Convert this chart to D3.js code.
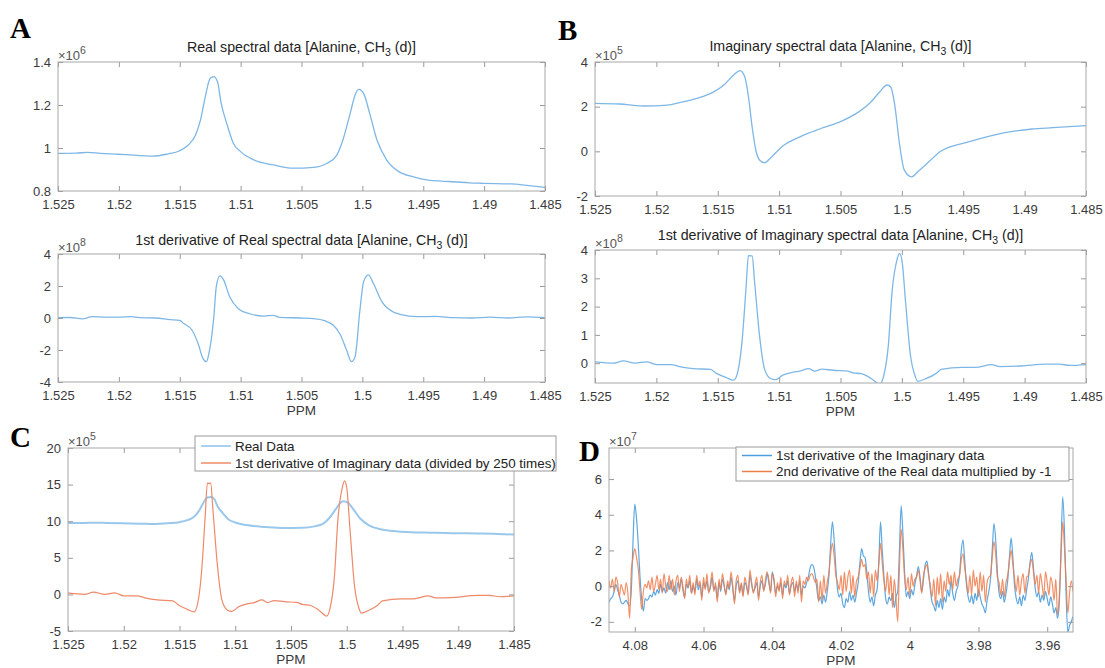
<!DOCTYPE html>
<html>
<head>
<meta charset="utf-8">
<script src="https://cdn.jsdelivr.net/npm/d3@7"></script>
<style>
body { margin: 0; background: #fff; }
svg text { font-family: "Liberation Sans", Arial, Helvetica, sans-serif; }
</style>
</head>
<body>
<svg id="fig" width="1105" height="668"></svg>
<script>
// ---- data ----
var ppmTicks = [1.525, 1.52, 1.515, 1.51, 1.505, 1.5, 1.495, 1.49, 1.485];
var ppmLabels = ["1.525", "1.52", "1.515", "1.51", "1.505", "1.5", "1.495", "1.49", "1.485"];
var dTicks = [4.08, 4.06, 4.04, 4.02, 4.00, 3.98, 3.96];
var dLabels = ["4.08", "4.06", "4.04", "4.02", "4", "3.98", "3.96"];

// real spectrum, x10^6
var realPpm = [1.5250,1.5235,1.5226,1.5215,1.5201,1.5185,1.5172,1.5160,1.5150,1.5143,1.5137,1.5133,1.5129,1.5125,1.5122,1.5119,1.5116,1.5111,1.5106,1.5100,1.5090,1.5073,1.5057,1.5040,1.5029,1.5021,1.5016,1.5010,1.5006,1.5003,1.4999,1.4994,1.4988,1.4980,1.4970,1.4958,1.4946,1.4935,1.4925,1.4912,1.4902,1.4890,1.4878,1.4865,1.4850];
var realVal = [0.975,0.976,0.980,0.975,0.971,0.966,0.962,0.972,0.987,1.014,1.060,1.130,1.239,1.324,1.332,1.308,1.209,1.107,1.022,0.983,0.947,0.921,0.906,0.910,0.929,0.967,1.037,1.161,1.247,1.273,1.254,1.161,1.037,0.944,0.890,0.866,0.851,0.846,0.843,0.838,0.836,0.834,0.833,0.826,0.817];

// 1st derivative of real, x10^8
var dRealPpm = [1.5250,1.5240,1.5230,1.5222,1.5212,1.5200,1.5190,1.5183,1.5170,1.5158,1.5150,1.5147,1.5140,1.5135,1.5131,1.5128,1.5126,1.5122,1.5120,1.5117,1.5114,1.5109,1.5102,1.5092,1.5081,1.5073,1.5068,1.5051,1.5040,1.5031,1.5024,1.5018,1.5013,1.5009,1.5006,1.5002,1.4999,1.4995,1.4991,1.4984,1.4975,1.4969,1.4955,1.4940,1.4925,1.4910,1.4895,1.4880,1.4865,1.4850];
var dRealVal = [0.02,0.03,-0.05,0.08,0.06,0.05,0.08,0.02,0.0,-0.10,-0.15,-0.33,-0.75,-1.58,-2.52,-2.73,-2.2,0.08,1.96,2.63,2.38,1.33,0.6,0.25,0.12,0.17,0.04,0.0,-0.04,-0.17,-0.44,-1.06,-2.0,-2.73,-2.42,0.5,2.27,2.69,2.17,1.02,0.39,0.23,0.08,0.1,0.02,0.0,0.05,0.0,0.07,0.02];

// imaginary spectrum, x10^5
var imagPpm = [1.5250,1.5230,1.5211,1.5191,1.5181,1.5167,1.5154,1.5145,1.5137,1.5132,1.5128,1.5125,1.5122,1.5119,1.5116,1.5112,1.5106,1.5097,1.5083,1.5067,1.5050,1.5037,1.5025,1.5018,1.5012,1.5009,1.5006,1.5002,1.4998,1.4992,1.4987,1.4978,1.4969,1.4945,1.4925,1.4911,1.4894,1.4877,1.4850];
var imagVal = [2.15,2.12,2.03,2.07,2.18,2.37,2.64,2.97,3.42,3.61,3.34,2.45,1.10,0.06,-0.39,-0.51,-0.24,0.24,0.65,1.0,1.33,1.70,2.22,2.67,2.97,2.87,2.15,0.36,-0.84,-1.14,-0.91,-0.47,-0.02,0.43,0.73,0.88,1.0,1.06,1.15];

// 1st derivative of imaginary, x10^8
var dImagPpm = [1.5250,1.5235,1.5227,1.5217,1.5208,1.5200,1.5188,1.5180,1.5170,1.5156,1.5151,1.5143,1.5137,1.5134,1.5130,1.5127,1.5125,1.5122,1.5120,1.5116,1.5112,1.5107,1.5103,1.5097,1.5088,1.5083,1.5076,1.5071,1.5065,1.5056,1.5045,1.5040,1.5033,1.5025,1.5018,1.5015,1.5011,1.5008,1.5004,1.5002,1.5000,1.4997,1.4993,1.4989,1.4987,1.4980,1.4972,1.4968,1.4951,1.4940,1.4927,1.4920,1.4903,1.4883,1.4872,1.4863,1.4850];
var dImagVal = [0.05,0.0,0.08,0.0,0.05,-0.05,-0.05,-0.13,-0.19,-0.22,-0.36,-0.51,-0.60,-0.36,0.87,2.64,3.80,3.79,2.88,0.99,-0.19,-0.54,-0.58,-0.42,-0.31,-0.28,-0.19,-0.28,-0.21,-0.25,-0.27,-0.34,-0.37,-0.54,-0.74,-0.48,0.64,2.52,3.65,3.88,3.65,2.17,0.28,-0.48,-0.64,-0.54,-0.36,-0.22,-0.15,-0.15,-0.05,-0.12,-0.1,-0.03,-0.03,-0.08,-0.05];

// panel D, x10^7, sampled every 0.0005 ppm from 4.0875
var dStart = 4.0875, dStep = 0.0005;
var dImag1st = [
 -0.9,-0.7,-0.6,-0.3,0.1,-0.2,-0.5,-0.9,-1.0,-0.9,
 -0.8,-1.0,-1.1,-0.2,2.6,4.6,3.8,2.4,0.6,-0.7,
 -1.4,-0.7,-0.8,-0.7,-0.5,-0.6,-0.3,-0.5,-0.2,-0.4,
 0.1,-0.3,-0.1,-0.4,0.2,-0.2,0.3,-0.3,0.0,-0.5,
 0.2,-0.1,0.4,-0.2,-0.6,0.1,-0.1,0.3,-0.4,0.0,
 -0.3,0.4,-0.2,0.1,-0.6,0.2,-0.1,0.3,-0.3,-0.1,
 0.5,-0.2,0.0,-0.7,0.2,-0.3,0.4,0.0,-0.4,0.1,
 -0.2,0.5,-0.1,-0.8,0.0,0.3,-0.3,0.1,-0.5,0.2,
 0.0,-0.4,0.6,0.1,-0.3,-0.1,0.2,-0.6,0.0,0.3,
 -0.2,0.1,0.7,0.2,-0.3,0.8,0.3,-0.4,0.0,-0.2,
 0.2,-0.5,0.1,-0.1,0.3,-0.4,0.0,0.2,-0.3,0.1,
 -0.2,0.3,-0.5,0.0,-0.1,0.2,0.5,1.0,1.2,1.1,
 0.6,-0.2,-0.8,-0.6,-1.0,-0.5,-0.9,-0.3,0.6,2.4,
 3.6,2.6,1.0,-0.2,-0.6,-0.4,-1.0,-1.2,-0.7,-0.9,
 -0.3,-0.8,-0.5,-0.9,-0.4,0.2,1.3,2.1,1.7,1.6,
 0.8,-0.3,-0.9,-0.6,-1.1,-0.5,-0.2,1.4,3.6,2.0,
 0.5,-0.7,-1.0,-0.6,-0.8,-0.4,-1.2,-0.6,-0.3,2.0,
 4.5,3.0,0.8,-0.6,-0.3,-0.7,-0.2,-0.5,0.1,0.6,
 1.1,0.5,-0.3,0.4,1.2,1.4,0.7,-0.2,-0.9,-1.1,
 -1.4,-0.8,-1.2,-0.7,-1.3,-0.6,-0.9,-0.2,-0.6,0.3,
 -0.4,-0.8,-0.3,0.0,0.7,2.0,2.6,1.4,0.1,-0.6,
 -0.9,-0.5,-1.0,-0.4,-0.8,-0.2,-0.6,-1.0,-1.2,-1.5,
 -0.8,-0.3,0.4,2.0,3.5,2.6,0.8,-0.4,-0.7,-0.3,
 -0.9,-0.4,0.3,1.6,2.7,1.6,0.0,-0.7,-1.0,-0.6,
 -1.1,-0.5,-0.8,-0.2,0.4,1.3,1.9,1.0,-0.1,-0.6,
 -0.3,-0.9,-0.5,-0.8,-0.3,-0.7,-1.1,-0.6,-1.0,-1.5,
 -1.2,-1.8,-1.0,2.0,5.0,3.2,-0.5,-2.6,-2.2,-2.0,-1.7
];
var dReal2nd = [
 0.3,-0.1,0.4,-0.3,0.5,0.2,-0.6,0.1,-0.2,-0.5,
 0.2,-0.4,-1.8,0.9,1.6,2.1,1.6,1.0,-0.2,-1.3,
 -0.3,0.1,-0.1,0.3,-0.2,0.5,-0.3,0.1,0.6,-0.2,
 0.4,-0.4,0.7,0.0,-0.3,0.6,-0.2,0.4,-0.5,0.3,
 0.6,-0.3,0.5,0.0,-0.7,0.4,-0.1,0.6,-0.4,0.2,
 -0.5,0.6,0.0,0.3,-0.8,0.5,-0.2,0.7,-0.4,0.1,
 0.8,-0.3,0.2,-0.9,0.4,-0.2,0.7,0.1,-0.5,0.3,
 -0.1,0.8,0.0,-1.0,0.3,0.6,-0.4,0.2,-0.6,0.5,
 0.1,-0.5,0.9,0.2,-0.4,0.1,0.5,-0.8,0.2,0.6,
 -0.3,0.3,0.8,0.4,-0.4,0.7,0.4,-0.6,0.2,-0.3,
 0.5,-0.7,0.3,0.0,0.6,-0.5,0.2,0.5,-0.6,0.3,
 -0.4,0.6,-0.9,0.3,0.1,0.5,0.3,0.6,0.7,0.5,
 0.2,0.4,-0.9,0.3,-0.8,0.6,-0.4,0.2,0.8,1.8,
 2.4,1.7,0.6,0.2,-0.2,0.6,-0.5,0.8,-0.3,0.5,
 0.9,-0.4,0.6,-0.6,0.3,0.5,1.0,1.5,1.1,1.2,
 0.4,0.8,-0.4,0.7,-0.6,0.9,0.3,1.2,2.4,1.3,
 0.3,-0.3,0.8,-0.5,0.6,-1.2,0.4,-0.7,-2.0,1.0,
 3.2,2.1,0.5,-0.2,0.5,-0.5,0.7,0.0,0.4,0.5,
 0.9,0.3,-0.4,0.6,1.0,1.2,0.6,0.0,-0.6,0.4,
 -1.1,0.5,-0.5,0.7,-0.9,0.3,-0.3,0.8,0.1,0.6,
 -0.2,0.8,0.0,0.4,0.6,1.5,1.8,1.0,0.3,-0.4,
 0.6,-0.5,0.9,0.0,0.5,-0.6,0.8,-0.3,0.6,-0.9,
 0.2,0.5,0.6,1.6,2.5,1.8,0.5,0.2,-0.5,0.4,
 -0.6,0.2,0.6,1.4,2.0,1.2,0.4,-0.3,0.6,-0.5,
 0.3,0.7,-0.4,0.5,0.6,1.2,1.5,0.8,0.1,0.6,
 -0.4,0.7,0.1,-0.6,0.8,0.2,-0.5,0.5,0.1,-0.8,
 0.4,-1.6,-0.6,1.6,3.6,2.2,0.3,-1.5,-0.4,0.3,-0.3
];
var dPpm = dImag1st.map(function(v, i) { return dStart - i * dStep; });

// panel C rescaling: real x10^6 -> x10^5, derivative x10^8 / 250 -> x10^5
var cRealK = 10, cImagK = 1e8 / 250 / 1e5;

var blueA = "#7eb7e6";
var svg = d3.select("#fig");

function drawPanel(p) {
    var x = d3.scaleLinear().domain(p.xd).range([p.x0, p.x1]);
    var y = d3.scaleLinear().domain(p.yd).range([p.y1, p.y0]);
    var g = svg.append("g");

    svg.append("clipPath").attr("id", "clip" + p.id)
        .append("rect")
        .attr("x", p.x0).attr("y", p.y0)
        .attr("width", p.x1 - p.x0).attr("height", p.y1 - p.y0);

    var line = d3.line()
        .x(function(d) { return x(d[0]); })
        .y(function(d) { return y(d[1]); })
        .curve(d3.curveMonotoneX);

    p.series.forEach(function(s) {
        var pts = s.ppm.map(function(v, i) { return [v, s.val[i] * s.k]; });
        g.append("path")
            .attr("clip-path", "url(#clip" + p.id + ")")
            .attr("d", line(pts))
            .attr("fill", "none")
            .attr("stroke", s.color)
            .attr("stroke-opacity", s.op || 1)
            .attr("stroke-width", s.w)
            .attr("stroke-linejoin", "round");
    });

    var fmtX = function(d, i) { return p.xl[i]; };
    var fmtY = function(d, i) { return p.yl[i]; };
    var axes = [
        [d3.axisBottom(x).tickValues(p.xt).tickFormat(fmtX).tickPadding(9), "translate(0," + p.y1 + ")"],
        [d3.axisTop(x).tickValues(p.xt).tickFormat(""), "translate(0," + p.y0 + ")"],
        [d3.axisLeft(y).tickValues(p.yt).tickFormat(fmtY).tickPadding(7), "translate(" + p.x0 + ",0)"],
        [d3.axisRight(y).tickValues(p.yt).tickFormat(""), "translate(" + p.x1 + ",0)"]
    ];
    axes.forEach(function(a) {
        var ax = g.append("g").attr("transform", a[1])
            .call(a[0].tickSizeInner(-5).tickSizeOuter(0));
        ax.select(".domain").remove();
        ax.selectAll("line").attr("stroke", "#9a9a9a");
        ax.selectAll("text").attr("fill", "#3a3a3a").style("font-size", "13px");
    });

    g.append("rect")
        .attr("x", p.x0).attr("y", p.y0)
        .attr("width", p.x1 - p.x0).attr("height", p.y1 - p.y0)
        .attr("fill", "none").attr("stroke", "#a8a8a8").attr("stroke-width", 1);

    // x10^n multiplier
    var e = g.append("text").attr("x", p.x0).attr("y", p.y0 - 2)
        .attr("fill", "#555").style("font-size", "13px");
    e.append("tspan").text("\u00d710");
    e.append("tspan").attr("dy", -6).style("font-size", "10.5px").text(p.exp);

    if (p.title) {
        var t = g.append("text")
            .attr("x", (p.x0 + p.x1) / 2).attr("y", p.ty)
            .attr("text-anchor", "middle")
            .attr("fill", "#222").style("font-size", "14.2px");
        t.append("tspan").text(p.title);
        t.append("tspan").attr("dy", 4).style("font-size", "10.5px").text("3");
        t.append("tspan").attr("dy", -4).text(" (d)]");
    }
    if (p.ppm) {
        g.append("text")
            .attr("x", (p.x0 + p.x1) / 2).attr("y", p.y1 + 33)
            .attr("text-anchor", "middle")
            .attr("fill", "#3a3a3a").style("font-size", "13.5px")
            .text("PPM");
    }
}

function drawLegend(lx, ly, w, h, first, gap, rows) {
    var g = svg.append("g");
    g.append("rect").attr("x", lx).attr("y", ly).attr("width", w).attr("height", h)
        .attr("fill", "#fff").attr("stroke", "#9a9a9a");
    rows.forEach(function(r, i) {
        var yy = ly + first + i * gap;
        g.append("line").attr("x1", lx + 6).attr("x2", lx + 36)
            .attr("y1", yy).attr("y2", yy)
            .attr("stroke", r.color).attr("stroke-width", 1.5);
        g.append("text").attr("x", lx + 40).attr("y", yy + 4.8)
            .attr("fill", "#222").style("font-size", "13.4px").text(r.label);
    });
}

var panels = [
    { id: "A1", x0: 58, x1: 545, y0: 62, y1: 191, xd: [1.525, 1.485], yd: [0.8, 1.4],
      xt: ppmTicks, xl: ppmLabels, yt: [0.8, 1, 1.2, 1.4], yl: ["0.8", "1", "1.2", "1.4"],
      exp: "6", title: "Real spectral data [Alanine, CH", ty: 52, ppm: false,
      series: [{ ppm: realPpm, val: realVal, k: 1, color: blueA, w: 1.3 }] },
    { id: "A2", x0: 58, x1: 545, y0: 254, y1: 382, xd: [1.525, 1.485], yd: [-4, 4],
      xt: ppmTicks, xl: ppmLabels, yt: [-4, -2, 0, 2, 4], yl: ["-4", "-2", "0", "2", "4"],
      exp: "8", title: "1st derivative of Real spectral data [Alanine, CH", ty: 245, ppm: true,
      series: [{ ppm: dRealPpm, val: dRealVal, k: 1, color: blueA, w: 1.3 }] },
    { id: "B1", x0: 595, x1: 1086, y0: 62, y1: 196, xd: [1.525, 1.485], yd: [-2, 4],
      xt: ppmTicks, xl: ppmLabels, yt: [-2, 0, 2, 4], yl: ["-2", "0", "2", "4"],
      exp: "5", title: "Imaginary spectral data [Alanine, CH", ty: 51, ppm: false,
      series: [{ ppm: imagPpm, val: imagVal, k: 1, color: blueA, w: 1.3 }] },
    { id: "B2", x0: 595, x1: 1086, y0: 250, y1: 383, xd: [1.525, 1.485], yd: [-0.7, 4],
      xt: ppmTicks, xl: ppmLabels, yt: [0, 1, 2, 3, 4], yl: ["0", "1", "2", "3", "4"],
      exp: "8", title: "1st derivative of Imaginary spectral data [Alanine, CH", ty: 240, ppm: true,
      series: [{ ppm: dImagPpm, val: dImagVal, k: 1, color: blueA, w: 1.3 }] },
    { id: "C", x0: 68, x1: 514, y0: 448, y1: 631, xd: [1.525, 1.485], yd: [-5, 20],
      xt: ppmTicks, xl: ppmLabels, yt: [-5, 0, 5, 10, 15, 20], yl: ["-5", "0", "5", "10", "15", "20"],
      exp: "5", title: null, ppm: true,
      series: [{ ppm: realPpm, val: realVal, k: cRealK, color: "#9ac8ec", w: 2 },
               { ppm: dImagPpm, val: dImagVal, k: cImagK, color: "#ee8a6a", w: 1.2 }] },
    { id: "D", x0: 609, x1: 1073, y0: 448, y1: 632, xd: [4.0875, 3.9525], yd: [-2.57, 7.74],
      xt: dTicks, xl: dLabels, yt: [-2, 0, 2, 4, 6], yl: ["-2", "0", "2", "4", "6"],
      exp: "7", title: null, ppm: true,
      series: [{ ppm: dPpm, val: dImag1st, k: 1, color: "#4d9edb", w: 1.2, op: 0.9 },
               { ppm: dPpm, val: dReal2nd, k: 1, color: "#ee7d4c", w: 1.2, op: 0.85 }] }
];
panels.forEach(drawPanel);

drawLegend(195, 436, 361, 35, 10, 17, [
    { color: "#8cc0ea", label: "Real Data" },
    { color: "#ee8a6a", label: "1st derivative of Imaginary data (divided by 250 times)" }
]);
drawLegend(736, 447, 333, 34, 8.5, 16, [
    { color: "#4d9edb", label: "1st derivative of the Imaginary data" },
    { color: "#ee7d4c", label: "2nd derivative of the Real data multiplied by -1" }
]);

// panel letters
var letters = [["A", 10, 38], ["B", 558, 40], ["C", 10, 447], ["D", 579, 461]];
svg.selectAll(".letter").data(letters).enter().append("text")
    .attr("x", function(d) { return d[1]; })
    .attr("y", function(d) { return d[2]; })
    .style("font-family", "'Liberation Serif', 'Times New Roman', serif")
    .style("font-weight", "bold").style("font-size", "29px")
    .attr("fill", "#000")
    .text(function(d) { return d[0]; });
</script>
</body>
</html>
